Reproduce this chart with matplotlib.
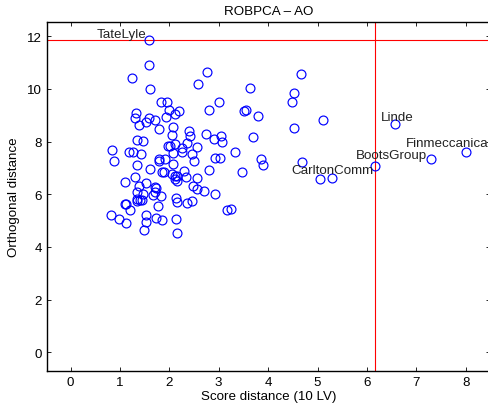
import matplotlib
matplotlib.use("Agg")
import matplotlib.pyplot as plt
import numpy as np

plt.rcParams['font.family'] = ['Liberation Sans', 'DejaVu Sans']

# Score distance (x) and orthogonal distance (y)
score_dist = [
    1.59, 1.58, 1.24, 1.60, 2.77, 2.58, 1.84, 1.95, 2.00, 2.11, 2.19, 1.93, 1.33, 1.30, 1.38,
    1.58, 1.52, 1.70, 1.79, 2.08, 2.81, 3.00, 3.63, 3.51, 3.55, 3.80, 4.66, 4.52, 4.48, 5.11,
    4.52, 3.69, 3.32, 3.85, 3.90, 4.69, 3.47, 5.05, 5.29, 6.16, 6.56, 7.30, 8.00,
    1.34, 1.46, 0.84, 0.88, 1.19, 1.27, 1.42, 1.34, 1.60, 2.06, 2.40, 2.42, 2.74, 2.91, 3.04,
    3.07, 1.98, 2.02, 2.11, 2.08, 2.26, 2.26, 2.36, 2.56, 2.46, 2.50, 1.79, 1.79, 1.92, 2.07,
    1.85, 1.90, 2.06, 2.11, 2.15, 2.29, 2.33, 2.56, 2.81, 2.93, 3.02, 1.30, 1.10, 2.11, 2.15,
    1.38, 1.53, 1.35, 1.35, 1.46, 1.44, 1.40, 1.34, 1.70, 1.72, 1.70, 1.67, 1.84, 1.77, 2.13,
    2.15, 2.35, 2.46, 2.48, 2.56, 2.70, 2.92, 1.11, 1.13, 1.21, 0.81, 0.98, 1.13, 1.52, 1.52,
    1.49, 1.74, 1.85, 2.14, 2.15, 3.17, 3.25,
]
orth_dist = [
    11.86, 10.89, 10.41, 10.00, 10.63, 10.19, 9.51, 9.51, 9.19, 9.06, 9.15, 8.94, 9.10, 8.90, 8.64,
    8.91, 8.73, 8.81, 8.49, 8.56, 9.21, 9.51, 10.03, 9.15, 9.21, 8.97, 10.55, 9.86, 9.52, 8.83,
    8.52, 8.18, 7.60, 7.32, 7.10, 7.24, 6.84, 6.59, 6.62, 7.09, 8.66, 7.32, 7.61,
    8.05, 8.02, 7.69, 7.25, 7.60, 7.62, 7.53, 7.11, 6.95, 8.25, 8.42, 8.23, 8.30, 8.10, 8.23,
    7.98, 7.82, 7.82, 7.90, 7.56, 7.76, 7.62, 7.95, 7.81, 7.53, 7.25, 7.27, 7.32, 7.34, 7.13,
    6.86, 6.85, 6.75, 6.71, 6.68, 6.89, 6.67, 6.63, 6.92, 7.39, 7.37, 6.65, 6.47, 6.58, 6.49,
    6.33, 6.42, 6.10, 5.82, 6.01, 5.80, 5.78, 5.76, 6.29, 6.23, 6.10, 5.99, 5.92, 5.57, 5.85,
    5.72, 5.67, 5.76, 6.32, 6.21, 6.13, 6.01, 5.63, 5.62, 5.39, 5.21, 5.06, 4.90, 5.21, 4.96,
    4.64, 5.10, 5.01, 5.05, 4.52, 5.39, 5.44,
]

# Cutoff values
sd_cutoff = 6.17
od_cutoff = 11.86

# Labelled observations: name, index into the arrays
label_names = ["TateLyle", "Linde", "Finmeccanica", "BootsGroup", "CarltonComm"]
label_index = [0, 40, 42, 39, 38]
label_offsets_px = [(-52, 3), (-14, 4), (-60, 6), (-19, 8), (-41, 5)]

x_ticks = [0, 1, 2, 3, 4, 5, 6, 7, 8]
y_ticks = [0, 2, 4, 6, 8, 10, 12]

FS = 9.6

fig = plt.figure(figsize=(4.88, 4.14), dpi=100)
ax = fig.add_axes([47.3 / 488, 1 - 371.7 / 414, (490 - 47.3) / 488, (371.7 - 23) / 414])

ax.plot(score_dist, orth_dist, 'o', mfc='none', mec='#0000ff', mew=0.85, ms=6.4, zorder=3)
ax.axhline(od_cutoff, color='#ff0000', lw=0.8, zorder=2)
ax.axvline(sd_cutoff, color='#ff0000', lw=0.8, zorder=2)

for name, idx, off in zip(label_names, label_index, label_offsets_px):
    ax.annotate(name, (score_dist[idx], orth_dist[idx]), xytext=off,
                textcoords='offset pixels', ha='left', va='baseline', fontsize=FS,
                color='#222222', annotation_clip=False)

ax.set_xlim(-0.47, 8.49)
ax.set_ylim(-0.70, 12.54)
ax.set_xticks(x_ticks)
ax.set_yticks(y_ticks)
ax.tick_params(direction='in', length=3, width=0.6, top=True, right=True,
               labelsize=FS, pad=4, colors='black')
for s in ax.spines.values():
    s.set_linewidth(1.0)

ax.set_title("ROBPCA \u2013 AO", fontsize=FS, pad=6)
ax.set_xlabel("Score distance (10 LV)", fontsize=FS, labelpad=1)
ax.set_ylabel("Orthogonal distance", fontsize=FS, labelpad=5)

fig.savefig("out.png", dpi=100)
